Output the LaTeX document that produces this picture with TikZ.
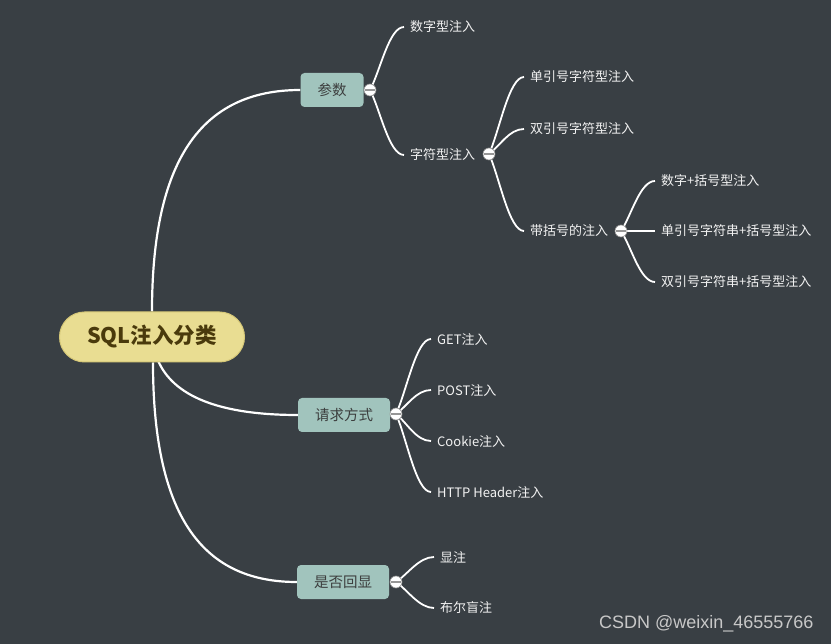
\documentclass[tikz,border=0pt]{standalone}
\usepackage{fontspec}
\setmainfont{Noto Sans CJK SC}
\newfontfamily\wmfont{Liberation Sans}
\usetikzlibrary{calc}
\definecolor{bgcol}{RGB}{57,63,68}
\definecolor{rootfill}{RGB}{233,221,146}
\definecolor{rootdraw}{RGB}{214,200,120}
\definecolor{roottext}{RGB}{74,58,12}
\definecolor{brfill}{RGB}{161,196,189}
\definecolor{brtext}{RGB}{60,62,62}
\definecolor{leaftext}{RGB}{242,242,242}
\definecolor{foldline}{RGB}{150,150,150}
\definecolor{wmcol}{RGB}{200,200,200}
\pgfdeclarelayer{back}
\pgfsetlayers{back,main}
\newcommand\leafconn[2]{\draw[conn] (#1.center) .. controls ($(#1.center)!0.3!(#2.west)$) and ($(#2.west)+(-15,0)$) .. (#2.west);}
\newcommand\foldmark[1]{\draw[foldline, line width=1.4pt] ($(#1.west)+(1.5,0)$) -- ($(#1.east)+(-1.5,0)$);}
\begin{document}
\begin{tikzpicture}[x=1pt,y=-1pt,
  rootnode/.style={fill=rootfill, draw=rootdraw, line width=1pt, rounded corners=25pt,
    minimum width=185pt, minimum height=50pt, inner sep=0pt,
    font=\fontsize{21.5}{24}\selectfont\bfseries, text=roottext},
  branchnode/.style={fill=brfill, rounded corners=4pt, minimum height=34pt, inner xsep=17pt,
    inner ysep=0pt, font=\fontsize{14.5}{16}\selectfont, text=brtext},
  leafnode/.style={anchor=west, inner xsep=6pt, inner ysep=2pt, text=leaftext,
    font=\fontsize{13}{15}\selectfont},
  conn/.style={draw=white, line width=1.8pt},
  foldnode/.style={circle, fill=white, draw=foldline, line width=0.6pt, minimum size=12pt, inner sep=0pt}]
\begin{pgfonlayer}{back}
\fill[bgcol] (0,0) rectangle (831,644);
\end{pgfonlayer}
\useasboundingbox (0,0) rectangle (831,644);

% root and branches
\node[rootnode] (root) at (152,337) {SQL注入分类};
\node[branchnode] (b1) at (332,90) {参数};
\node[branchnode] (b2) at (344,415) {请求方式};
\node[branchnode] (b3) at (343,582) {是否回显};

% leaves of 参数
\node[leafnode] (l1) at (404,27) {数字型注入};
\node[leafnode] (l2) at (404,155) {字符型注入};
\node[leafnode] (l21) at (524,77) {单引号字符型注入};
\node[leafnode] (l22) at (524,129) {双引号字符型注入};
\node[leafnode] (l23) at (524,231) {带括号的注入};
\node[leafnode] (l231) at (655,181) {数字+括号型注入};
\node[leafnode] (l232) at (655,231) {单引号字符串+括号型注入};
\node[leafnode] (l233) at (655,282) {双引号字符串+括号型注入};

% leaves of 请求方式
\node[leafnode] (m1) at (431,339) {GET注入};
\node[leafnode] (m2) at (431,390) {POST注入};
\node[leafnode] (m3) at (431,441) {Cookie注入};
\node[leafnode] (m4) at (431,492) {HTTP Header注入};

% leaves of 是否回显
\node[leafnode] (n1) at (434,557) {显注};
\node[leafnode] (n2) at (434,608) {布尔盲注};

% fold circles
\node[foldnode] (f1) at (370,90) {};
\node[foldnode] (f2) at (489,154) {};
\node[foldnode] (f3) at (621,231) {};
\node[foldnode] (f4) at (396,414) {};
\node[foldnode] (f5) at (396,582) {};

\begin{pgfonlayer}{back}
\draw[conn, line width=2.2pt] (root.north) .. controls +(0,-150) and +(-100,0) .. (b1.west);
\draw[conn, line width=2.2pt] ($(root.south)+(6,-2)$) .. controls +(15,35) and +(-80,0) .. (b2.west);
\draw[conn, line width=2.2pt] ($(root.south)+(1,0)$) .. controls +(0,160) and +(-90,0) .. (b3.west);
\leafconn{f1}{l1}
\leafconn{f1}{l2}
\leafconn{f2}{l21}
\leafconn{f2}{l22}
\leafconn{f2}{l23}
\leafconn{f3}{l231}
\draw[conn] (f3.center) -- (l232.west);
\leafconn{f3}{l233}
\leafconn{f4}{m1}
\leafconn{f4}{m2}
\leafconn{f4}{m3}
\leafconn{f4}{m4}
\leafconn{f5}{n1}
\leafconn{f5}{n2}
\end{pgfonlayer}

\foldmark{f1}
\foldmark{f2}
\foldmark{f3}
\foldmark{f4}
\foldmark{f5}

\node[anchor=east, text=wmcol, font=\wmfont\fontsize{18}{21}\selectfont] (wm) at (817,624) {CSDN @weixin\_46555766};
\end{tikzpicture}
\end{document}
